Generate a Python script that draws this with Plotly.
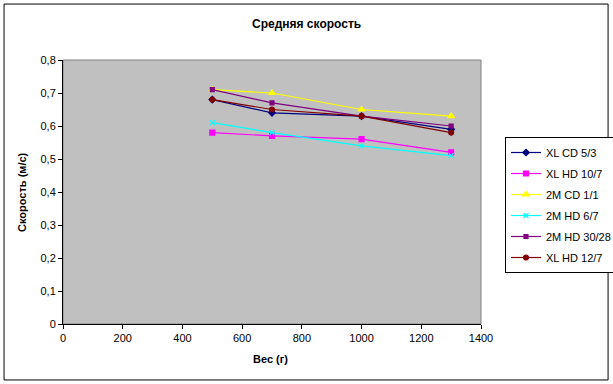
import plotly.graph_objects as go

weights = [500, 700, 1000, 1300]
series_names = ["XL CD 5/3", "XL HD 10/7", "2M CD 1/1", "2M HD 6/7", "2M HD 30/28", "XL HD 12/7"]
xl_cd_5_3 = [0.68, 0.64, 0.63, 0.59]
xl_hd_10_7 = [0.58, 0.57, 0.56, 0.52]
m2_cd_1_1 = [0.71, 0.70, 0.65, 0.63]
m2_hd_6_7 = [0.61, 0.58, 0.54, 0.51]
m2_hd_30_28 = [0.71, 0.67, 0.63, 0.60]
xl_hd_12_7 = [0.68, 0.65, 0.63, 0.58]
y_tick_vals = [0, 0.1, 0.2, 0.3, 0.4, 0.5, 0.6, 0.7, 0.8]
y_tick_text = ["0", "0,1", "0,2", "0,3", "0,4", "0,5", "0,6", "0,7", "0,8"]
x_tick_vals = [0, 200, 400, 600, 800, 1000, 1200, 1400]

values = [xl_cd_5_3, xl_hd_10_7, m2_cd_1_1, m2_hd_6_7, m2_hd_30_28, xl_hd_12_7]
colors = ["#000080", "#FF00FF", "#FFFF00", "#00FFFF", "#800080", "#800000"]
symbols = ["diamond", "square", "triangle-up", "x-thin-open", "square", "circle"]
sizes = [5, 5, 6, 5, 4, 5]

fig = go.Figure()
for i, (name, vals, c, s, sz) in enumerate(zip(series_names, values, colors, symbols, sizes)):
    fig.add_trace(go.Scatter(
        x=weights, y=vals, name=name, mode="lines+markers", legendgroup=f"g{i}",
        line=dict(color=c, width=1.2),
        marker=dict(symbol=s, size=sz, color=c, line=dict(color=c, width=1.2)),
    ))

font = "Liberation Sans, Arial, sans-serif"
fig.update_layout(
    width=613, height=384,
    margin=dict(l=63, r=132, t=60, b=60, autoexpand=False),
    paper_bgcolor="white", plot_bgcolor="#C0C0C0",
    font=dict(family=font, size=11, color="black"),
    showlegend=True,
    legend=dict(
        x=(505 - 63) / 418, y=(324 - 137) / 264, xanchor="left", yanchor="top",
        bordercolor="black", borderwidth=1, bgcolor="white",
        font=dict(family=font, size=11, color="black"),
        tracegroupgap=2, itemwidth=30,
    ),
    xaxis=dict(
        range=[0, 1400], tickvals=x_tick_vals, showgrid=False, zeroline=False,
        showline=True, linecolor="black", linewidth=1,
        ticks="outside", ticklen=4, tickcolor="black",
        tickfont=dict(size=11),
    ),
    yaxis=dict(
        range=[0, 0.8], tickvals=y_tick_vals, ticktext=y_tick_text,
        showgrid=False, zeroline=False,
        showline=True, linecolor="black", linewidth=1,
        ticks="outside", ticklen=4, tickcolor="black",
        tickfont=dict(size=11),
    ),
    shapes=[
        dict(type="rect", xref="paper", yref="paper", x0=0, x1=1, y0=0, y1=1,
             line=dict(color="#808080", width=1), layer="below"),
        dict(type="rect", xref="paper", yref="paper", x0=-0.141, x1=1.304, y0=-0.212, y1=1.212,
             line=dict(color="black", width=1)),
    ],
    annotations=[
        dict(text="<b>Средняя скорость</b>", xref="paper", yref="paper",
             x=(306 - 63) / 418, y=(324 - 24) / 264, showarrow=False,
             font=dict(size=12, family=font), xanchor="center", yanchor="middle"),
        dict(text="<b>Вес (г)</b>", xref="paper", yref="paper",
             x=(270 - 63) / 418, y=(324 - 359) / 264, showarrow=False,
             font=dict(size=11, family=font), xanchor="center", yanchor="middle"),
        dict(text="<b>Скорость (м/с)</b>", xref="paper", yref="paper",
             x=(22 - 63) / 418, y=(324 - 192) / 264, showarrow=False, textangle=-90,
             font=dict(size=11, family=font), xanchor="center", yanchor="middle"),
    ],
)

fig.write_html("out.html", config={"displayModeBar": False},
               post_script="document.body.style.margin='0';document.body.style.overflow='hidden';")
